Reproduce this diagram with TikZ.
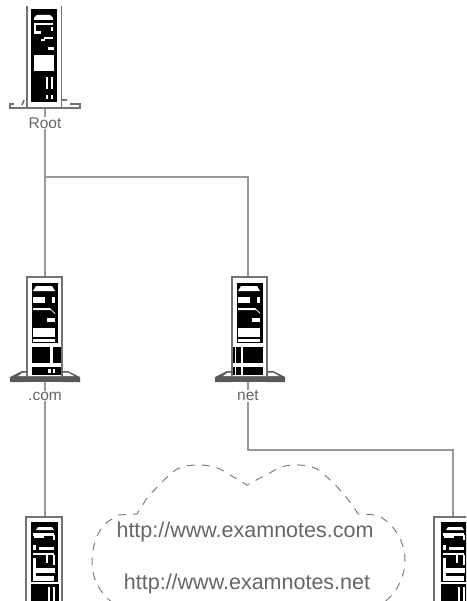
\documentclass[tikz,border=0pt]{standalone}
\usepackage{fontspec}
\setmainfont{Liberation Sans}
\definecolor{wire}{gray}{0.6}
\definecolor{txt}{gray}{0.4}
\tikzset{
  wire/.style={draw=wire,line width=1.6pt},
  srvbox/.style={minimum width=36pt,minimum height=102pt,inner sep=0pt,outer sep=0pt},
  srvlabel/.style={fill=white,inner sep=0.5pt,text=txt,font=\fontsize{15.5}{16}\selectfont},
  cloudline/.style={draw=black!50,line width=1pt,dash pattern=on 8pt off 7pt},
  urltext/.style={text=txt,font=\fontsize{21.5}{24}\selectfont},
  frameln/.style={draw=black!55,line width=1.7pt},
}
% tower with full base: #1 = x of the frame, #2 = y of the frame top
\newcommand{\towerbody}[2]{%
  \begin{scope}[shift={(#1,#2)}]
    \draw[frameln] (0,0) rectangle (35,100);
    \fill[black] (5,6) rectangle (31,66);
    \fill[white] (6,14) -- (9,9) -- (25,9) -- (28,14) -- cycle;
    \fill[white] (6,20) rectangle (18,26);
    \fill[white] (25,20) rectangle (28,26);
    \fill[white] (6,31) -- (23,31) -- (28,36) -- (28,37) -- (24,33) -- (6,33) -- cycle;
    \fill[white] (20,41) rectangle (28,45);
    \fill[white] (6,51) rectangle (28,60);
    \fill[white] (6,62) rectangle (28,65);
  \end{scope}}
\newcommand{\towerbase}[2]{%
  \begin{scope}[shift={(#1,#2)}]
    \fill[black!65] (-17,100) -- (-5,94) -- (0,94) -- (0,105) -- (-17,105) -- cycle;
    \fill[black!65] (35,94) -- (41,94) -- (53,100) -- (53,105) -- (35,105) -- cycle;
    \fill[white] (-9,99) -- (-4,95.5) -- (-1,95.5) -- (-1,99) -- cycle;
    \fill[white] (36,95.5) -- (41,95.5) -- (47,99) -- (36,99) -- cycle;
    \fill[black!65] (0,100) rectangle (35,105);
  \end{scope}}
% tower cut by the page edge: #1 = x of the frame, #2 = shift of the contents
\newcommand{\lowertower}[2]{%
  \begin{scope}[shift={(#1,517)}]
    \draw[frameln] (0,0) rectangle (36,95);
    \fill[black] (5+#2,5) rectangle (32+#2,65);
    \fill[black] (5+#2,67) rectangle (33+#2,90);
    \begin{scope}[shift={(#2,0)}]
      \fill[white] (10,13) -- (12,10) -- (26,10) -- (28,13) -- cycle;
      \fill[white] (7,16) rectangle (28,19);
      \fill[white] (8,19) rectangle (18,21);
      \fill[white] (27,18) rectangle (29,23);
      \fill[white] (7,28) rectangle (10,33);
      \fill[white] (13,30) rectangle (28,33);
      \fill[white] (7,36) rectangle (28,38);
      \fill[white] (20,38) rectangle (22,46);
      \fill[white] (27,38) rectangle (29,48);
      \fill[white] (7,41) rectangle (10,64);
      \fill[white] (7,51) rectangle (29,56);
      \fill[white] (7,59) rectangle (28,64);
      \fill[white] (22,70) rectangle (24,90);
      \fill[white] (27,70) rectangle (29,90);
    \end{scope}
  \end{scope}}
\begin{document}
\begin{tikzpicture}[x=1pt,y=-1pt]
\useasboundingbox (0,0) rectangle (466,601);
\clip (0,0) rectangle (466,601);
\fill[white] (0,0) rectangle (466,601);
% anchor nodes for the five servers
\node[srvbox] (root) at (45,57) {};
\node[srvbox] (com) at (45,328) {};
\node[srvbox] (net) at (248,328) {};
\node[srvbox] (hostl) at (45,568) {};
\node[srvbox] (hostr) at (453,568) {};
\coordinate (jroot) at (45,177);
\coordinate (jnet) at (248,450);
\coordinate (jright) at (453,450);
% connectors
\draw[wire] (root.south) -- (jroot) -- (com.north);
\draw[wire] (jroot) -| (net.north);
\draw[wire] (com.south) -- (hostl.north);
\draw[wire] (net.south) -- (jnet) -- (jright) -- (hostr.north);
% root server
\begin{scope}[shift={(27,6)}]
  \fill[black] (4,3) rectangle (30,96);
  \draw[frameln] (0,0) -- (0,103);
  \draw[frameln] (34.5,0) -- (34.5,103);
  \fill[white] (7,14) -- (7,12) -- (10,9) -- (23,9) -- (26,12) -- (26,14) -- cycle;
  \fill[white] (7,17) rectangle (26,19);
  \fill[white] (7,19) rectangle (9,28);
  \fill[white] (9,25) rectangle (14,28);
  \fill[white] (24,21) rectangle (26,25);
  \fill[white] (17,31) rectangle (26,33);
  \fill[white] (14,33) rectangle (18,35);
  \fill[white] (21,41) rectangle (27,44);
  \fill[white] (7,49) rectangle (27,65);
  \fill[white] (19,71) rectangle (21,83);
  \fill[white] (24,71) rectangle (26,83);
  \fill[white] (19,89) rectangle (21,93);
  \fill[white] (24,89) rectangle (26,93);
  \draw[frameln] (-17,103) -- (-17,98) -- (-13,98);
  \draw[frameln] (53,103) -- (53,98) -- (43,98);
  \draw[frameln] (-17,102) -- (53,102);
  \draw[frameln] (-5,99) -- (-3,94);
  \draw[frameln] (34,94) -- (40,94);
\end{scope}
% .com server
\towerbody{27}{277}
\towerbase{27}{277}
\begin{scope}[shift={(27,277)}]
  \fill[black] (5,70) rectangle (34,86);
  \fill[black] (5,90) rectangle (34,98);
  \fill[white] (23,70) rectangle (26,86);
  \fill[white] (21,92) rectangle (24,96);
  \fill[white] (26,92) rectangle (28,96);
\end{scope}
% .net server
\towerbody{232}{277}
\towerbase{232}{277}
\begin{scope}[shift={(232,277)}]
  \fill[black] (1,70) rectangle (31,86);
  \fill[black] (1,90) rectangle (31,98);
  \fill[white] (2.5,70) rectangle (4,98);
  \fill[white] (9,70) rectangle (11,98);
\end{scope}
% lower servers, cut by the page edge
\lowertower{26}{0}
\lowertower{434}{2}
% labels
\node[srvlabel] (lroot) at (45,123) {Root};
\node[srvlabel] (lcom) at (45,396) {.com};
\node[srvlabel] (lnet) at (248,396) {net};
% cloud
\draw[cloudline] (118,515) -- (137,514) -- (147,498) .. controls (157,487) and (167,476) .. (177,469)
  .. controls (190,463) and (208,464) .. (220,469) -- (247,485) -- (277,469)
  .. controls (288,463) and (306,464) .. (317,469) .. controls (330,478) and (348,497) .. (358,514) -- (377,515)
  .. controls (392,522) and (405,540) .. (405,560) .. controls (405,578) and (395,595) .. (383,603);
\draw[cloudline] (112,519) .. controls (100,525) and (92,542) .. (92,563) .. controls (92,580) and (102,595) .. (113,603);
\node[urltext] (url1) at (245,532) {http://www.examnotes.com};
\node[urltext] (url2) at (247,584) {http://www.examnotes.net};
\end{tikzpicture}
\end{document}
